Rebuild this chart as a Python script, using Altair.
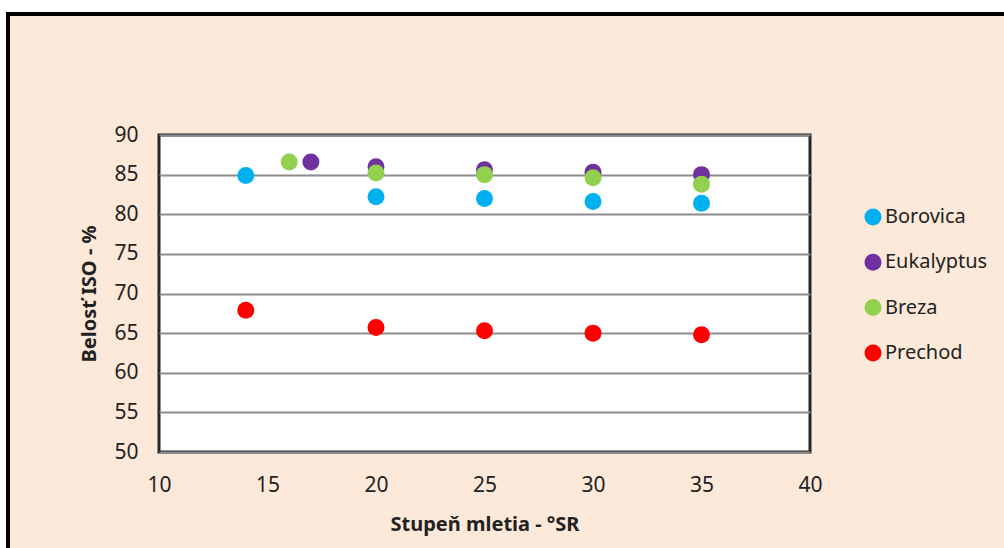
import altair as alt
import pandas as pd

series_names = ["Borovica", "Eukalyptus", "Breza", "Prechod"]
series_colors = ["#00B0F0", "#7030A0", "#92D050", "#FF0000"]

borovica_x = [14, 20, 25, 30, 35]
borovica_y = [84.9, 82.2, 82.0, 81.6, 81.4]
eukalyptus_x = [17, 20, 25, 30, 35]
eukalyptus_y = [86.6, 86.0, 85.6, 85.3, 85.0]
breza_x = [16, 20, 25, 30, 35]
breza_y = [86.6, 85.2, 85.0, 84.6, 83.8]
prechod_x = [14, 20, 25, 30, 35]
prechod_y = [67.9, 65.7, 65.3, 65.0, 64.8]

x_ticks = [10, 15, 20, 25, 30, 35, 40]
y_ticks = [50, 55, 60, 65, 70, 75, 80, 85, 90]

rows = []
for i, (name, xs, ys) in enumerate(zip(
        series_names,
        [borovica_x, eukalyptus_x, breza_x, prechod_x],
        [borovica_y, eukalyptus_y, breza_y, prechod_y])):
    for xv, yv in zip(xs, ys):
        rows.append({"series": name, "sr": xv, "belost": yv, "idx": i})
df = pd.DataFrame(rows)

FONT = "Noto Sans"
PW, PH = 651, 317
PL, PT = 159, 135

points = alt.Chart(df).mark_circle(size=289, opacity=1).encode(
    x=alt.X("sr:Q", scale=alt.Scale(domain=[10, 40], nice=False),
            axis=alt.Axis(values=x_ticks, title="Stupeň mletia - °SR", grid=False,
                          ticks=False, domain=False, labelPadding=22, labelFlush=False,
                          labelFontSize=21, titleFontSize=20, titlePadding=19,
                          labelColor="#222", titleColor="#222", labelFont=FONT,
                          titleFont=FONT, titleFontWeight="bold")),
    y=alt.Y("belost:Q", scale=alt.Scale(domain=[50, 90], nice=False, zero=False),
            axis=alt.Axis(values=y_ticks, title="Belosť ISO - %", grid=True,
                          gridColor="#8c8c8c", gridWidth=2, ticks=False, domain=False,
                          labelPadding=21, labelFlush=False, labelFontSize=21,
                          titleFontSize=20, titlePadding=14, labelColor="#222",
                          titleColor="#222", labelFont=FONT, titleFont=FONT,
                          titleFontWeight="bold")),
    color=alt.Color("series:N",
                    scale=alt.Scale(domain=series_names, range=series_colors),
                    legend=alt.Legend(title=None, orient="none", legendX=704, legendY=72,
                                      symbolType="circle", symbolSize=289,
                                      symbolStrokeWidth=0, symbolOpacity=1,
                                      labelFontSize=20, labelFont=FONT, labelColor="#222",
                                      labelOffset=2, rowPadding=25.3, padding=0)),
    order=alt.Order("idx:Q"),
)

deco = alt.Data(values=[{"k": 1}])
top_strip = alt.Chart(deco).mark_rect(color="white").encode(
    x=alt.value(-PL), x2=alt.value(PW + 300), y=alt.value(-PT), y2=alt.value(-PT + 12))
left_strip = alt.Chart(deco).mark_rect(color="white").encode(
    x=alt.value(-PL), x2=alt.value(-PL + 6), y=alt.value(-PT), y2=alt.value(PH + 200))
frame = alt.Chart(deco).mark_rect(fillOpacity=0, stroke="black", strokeWidth=4).encode(
    x=alt.value(-PL + 8), x2=alt.value(PW + 300), y=alt.value(-PT + 14), y2=alt.value(PH + 200))

chart = alt.layer(top_strip, left_strip, frame, points).properties(
    width=PW, height=PH,
    background="#FDE9D9",
    autosize=alt.AutoSizeParams(type="none"),
    padding={"left": PL, "top": PT, "right": 1004 - PL - PW, "bottom": 548 - PT - PH},
).configure_view(fill="white", stroke="#262626", strokeWidth=3)

chart.save("out.html", embed_options={"renderer": "svg", "actions": False})
